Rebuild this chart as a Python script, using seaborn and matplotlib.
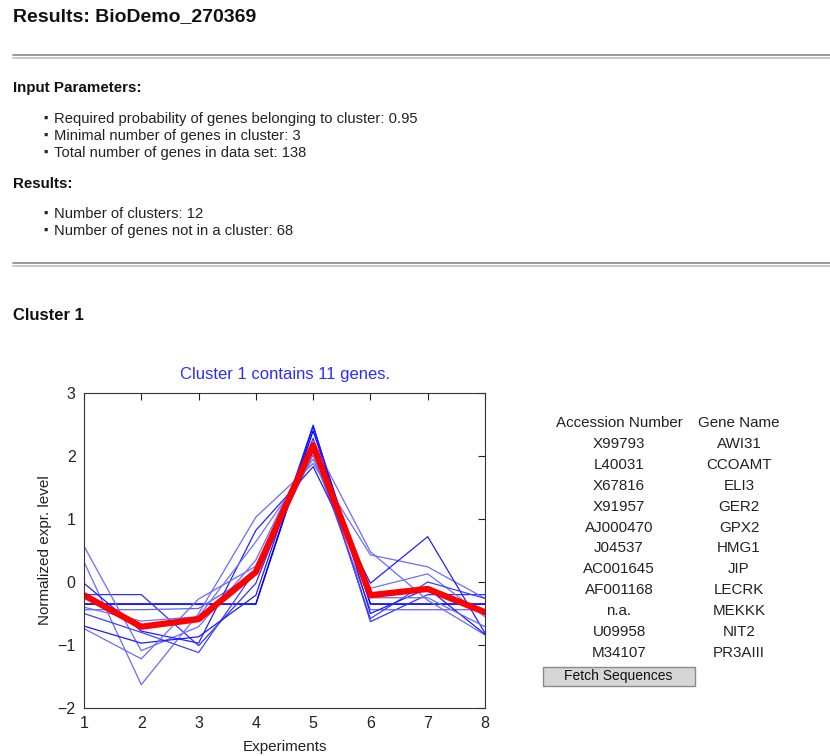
import pandas as pd
import numpy as np
import matplotlib.pyplot as plt
import seaborn as sns
from matplotlib.lines import Line2D
from matplotlib.patches import Rectangle

# experiments on the x axis
experiments = [1, 2, 3, 4, 5, 6, 7, 8]

# normalized expression profiles of the 11 genes in cluster 1
gene_profiles = {
    'AWI31':   [-0.35, -0.35, -0.35, -0.35, 2.47, -0.35, -0.35, -0.35],
    'CCOAMT':  [-0.35, -0.35, -0.35, -0.35, 2.40, -0.35, -0.35, -0.35],
    'ELI3':    [-0.20, -0.20, -1.01, -0.02, 2.28, -0.63, -0.20, -0.20],
    'GER2':    [-0.44, -0.44, -0.42, 0.14, 2.02, -0.44, -0.44, -0.44],
    'GPX2':    [0.57, -1.09, -0.71, 0.35, 2.22, 0.48, -0.29, -0.84],
    'HMG1':    [0.32, -1.63, -0.50, 1.03, 1.88, 0.43, 0.24, -0.26],
    'JIP':     [-0.02, -0.78, -0.97, 0.82, 1.83, -0.02, 0.72, -0.81],
    'LECRK':   [-0.40, -0.62, -0.55, 0.64, 1.95, -0.10, 0.13, -0.55],
    'MEKKK':   [-0.50, -0.80, -1.12, 0.19, 2.15, -0.58, 0.00, -0.26],
    'NIT2':    [-0.70, -0.97, -0.87, -0.21, 2.49, -0.50, -0.10, -0.83],
    'PR3AIII': [-0.74, -1.22, -0.27, 0.25, 2.08, -0.25, -0.25, -0.71],
}
# cluster mean (red)
cluster_mean = [-0.21, -0.71, -0.59, 0.16, 2.17, -0.21, -0.11, -0.48]

accessions = ['X99793', 'L40031', 'X67816', 'X91957', 'AJ000470', 'J04537',
              'AC001645', 'AF001168', 'n.a.', 'U09958', 'M34107']
gene_names = list(gene_profiles.keys())

# light vs. solid blue per gene (as rendered)
gene_colors = ['#0000ff', '#0000ff', '#3030ff', '#6060ff', '#6a6aff', '#6a6aff',
               '#2020ff', '#7070ff', '#4040ff', '#1a1aff', '#6a6aff']

sns.set_style('white')
plt.rcParams['font.family'] = ['Liberation Sans', 'DejaVu Sans']

W, H = 830, 756
fig = plt.figure(figsize=(W / 100, H / 100), dpi=100)
TXT = '#222222'


def px(x, y):
    return x / W, 1 - y / H


def ftext(x, y, s, **kw):
    fx, fy = px(x, y)
    fig.text(fx, fy, s, va='center', **kw)


def hrule(y):
    for dy, c in [(0, '#9a9a9a'), (3, '#c8c8c8')]:
        x0, y0 = px(13, y + dy)
        x1, _ = px(830, y + dy)
        fig.add_artist(Line2D([x0, x1], [y0, y0], color=c, lw=1.4))


# page text
ftext(13, 17, 'Results: BioDemo_270369', fontsize=14, fontweight='bold', color='#111111')
hrule(55)
ftext(13, 88, 'Input Parameters:', fontsize=10.9, fontweight='bold', color='#111111')
params = ['Required probability of genes belonging to cluster: 0.95',
          'Minimal number of genes in cluster: 3',
          'Total number of genes in data set: 138']
for i, s in enumerate(params):
    ftext(43, 119 + 17 * i, '\u25aa', fontsize=9, color=TXT)
    ftext(54, 119 + 17 * i, s, fontsize=10.6, color=TXT)
ftext(13, 184, 'Results:', fontsize=10.9, fontweight='bold', color='#111111')
results = ['Number of clusters: 12', 'Number of genes not in a cluster: 68']
for i, s in enumerate(results):
    ftext(43, 214 + 17 * i, '\u25aa', fontsize=9, color=TXT)
    ftext(54, 214 + 17 * i, s, fontsize=10.6, color=TXT)
hrule(263)
ftext(13, 315, 'Cluster 1', fontsize=12, fontweight='bold', color='#111111')

# chart
ax = fig.add_axes([84 / W, 1 - 708 / H, (485 - 84) / W, (708 - 393) / H])
df = pd.DataFrame([(g, e, v) for g, vals in gene_profiles.items()
                   for e, v in zip(experiments, vals)],
                  columns=['gene', 'experiment', 'value'])
sns.lineplot(data=df, x='experiment', y='value', hue='gene',
             palette=dict(zip(gene_names, gene_colors)), lw=0.9,
             legend=False, ax=ax)
sns.lineplot(x=experiments, y=cluster_mean, color='#ff0000', lw=4.5, ax=ax)

ax.set_xlim(1, 8)
ax.set_ylim(-2, 3)
ax.set_xticks(experiments)
ax.set_yticks([-2, -1, 0, 1, 2, 3])
ax.set_yticklabels(['\u22122', '\u22121', '0', '1', '2', '3'])
ax.tick_params(direction='in', top=True, right=True, length=5, width=0.8,
               labelsize=11.5, colors=TXT, pad=6)
for sp in ax.spines.values():
    sp.set_color('#333333')
    sp.set_linewidth(0.8)
ax.set_title('Cluster 1 contains 11 genes.', color='#2d2dff', fontsize=12, pad=10)
ax.set_xlabel('Experiments', fontsize=11, color=TXT, labelpad=6)
ax.set_ylabel('Normalized expr. level', fontsize=11, color=TXT, labelpad=4)

# gene table
ftext(619, 423, 'Accession Number', fontsize=10.9, ha='center', color=TXT)
ftext(739, 423, 'Gene Name', fontsize=10.9, ha='center', color=TXT)
for i, (a, g) in enumerate(zip(accessions, gene_names)):
    y = 444 + 20.9 * i
    ftext(619, y, a, fontsize=10.9, ha='center', color=TXT)
    ftext(739, y, g, fontsize=10.9, ha='center', color=TXT)

# button
bx0, by0 = px(543, 686)
bx1, by1 = px(695, 667)
fig.add_artist(Rectangle((bx0, by0), bx1 - bx0, by1 - by0, transform=fig.transFigure,
                         facecolor='#d6d6d6', edgecolor='#8a8a8a', lw=1))
ftext(618, 676, 'Fetch Sequences', fontsize=10, ha='center', color='#111111')

fig.savefig('out.png', dpi=100)
